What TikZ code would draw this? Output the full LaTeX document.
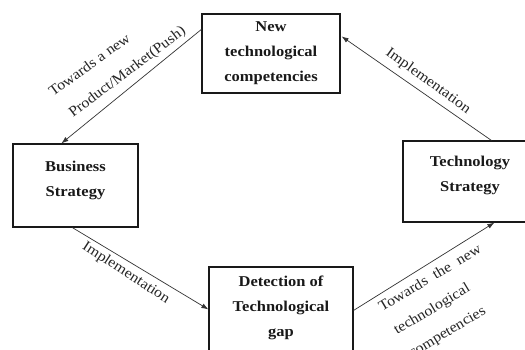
\documentclass[tikz,border=0pt]{standalone}
\usepackage{fontspec}
\usetikzlibrary{arrows.meta,calc}
\newfontfamily\diagfam{Liberation Serif}[FakeStretch=1.1]
\newcommand\boxfont{\diagfam\bfseries\fontsize{15}{25}\selectfont}
\newcommand\lblfont{\diagfam\fontsize{14.5}{27}\selectfont}
\tikzset{
  box/.style={draw=black!90, line width=1.2pt, align=center, font=\boxfont, text=black!90, inner sep=0pt},
  conn/.style={draw=black!80, line width=0.7pt, -{Latex[length=7pt,width=5pt]}},
  lbl/.style={font=\lblfont, text=black!85, inner sep=0pt}
}
\begin{document}
\begin{tikzpicture}[x=1pt,y=-1pt]
\useasboundingbox (0,0) rectangle (525,349);
\fill[white] (0,0) rectangle (525,349);
\clip (0,0) rectangle (525,349);
% boxes
\node[box, minimum width=138pt, minimum height=79pt] (newtech) at (271,53.5) {New\\technological\\competencies};
\node[box, minimum width=125pt, minimum height=83pt] (business) at (75.5,185.5) {Business\\Strategy\rule[-14pt]{0pt}{0pt}};
\node[box, minimum width=134pt, minimum height=81pt] (techstrat) at (470,181.5) {Technology\\Strategy\rule[-15pt]{0pt}{0pt}};
\node[box, minimum width=144pt, minimum height=90pt] (detect) at (281,312) {Detection of\\Technological\\gap\rule[-12.5pt]{0pt}{0pt}};
% connectors
\draw[conn] ($(newtech.north west)+(0,16)$) -- ($(business.north west)+(49,0)$);
\draw[conn] ($(techstrat.north west)+(89,0)$) -- ($(newtech.north east)+(1,23)$);
\draw[conn] ($(business.south west)+(60,0)$) -- ($(detect.north west)+(0,43)$);
\draw[conn] ($(detect.north east)+(0,44)$) -- ($(techstrat.south west)+(92,0)$);
% labels
\node[lbl, rotate=36, anchor=base west] (l1a) at (53,97) {Towards a new};
\node[lbl, rotate=37, anchor=base west] (l1b) at (73,118) {Product/Market(Push)};
\node[lbl, rotate=-36, anchor=base] (l2) at (426,84) {Implementation};
\node[lbl, rotate=-33, anchor=base] (l3) at (124,276) {Implementation};
\node[lbl, rotate=31, anchor=base west] (l4a) at (382,312) {Towards\ \ the\ \ new};
\node[lbl, rotate=31, anchor=base west] (l4b) at (397,335) {technological};
\node[lbl, rotate=31, anchor=base west] (l4c) at (412,358) {competencies};
\end{tikzpicture}
\end{document}
